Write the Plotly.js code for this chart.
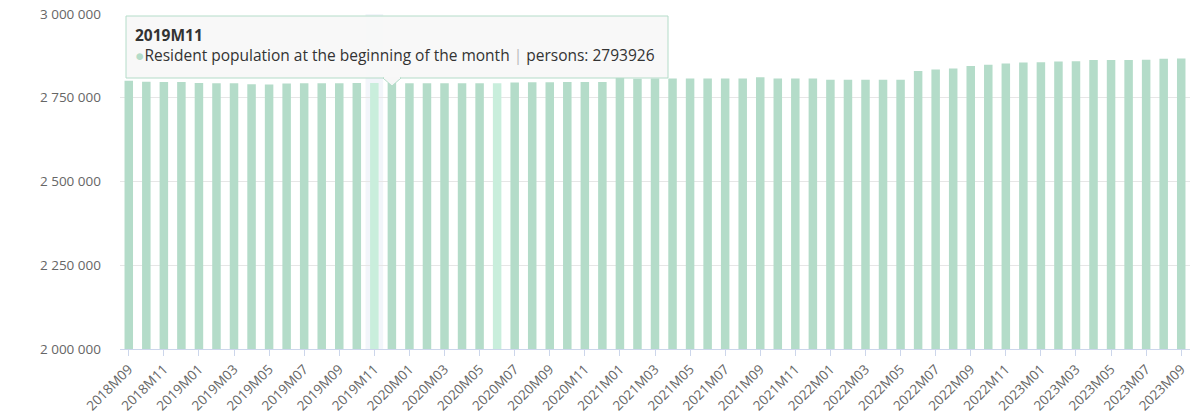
<!DOCTYPE html>
<html>
<head>
<meta charset="utf-8">
<script src="https://cdn.plot.ly/plotly-3.0.1.min.js"></script>
<style>
html,body{margin:0;padding:0;background:#fff;}
#chart{width:1199px;height:415px;}
</style>
</head>
<body>
<div id="chart"></div>
<script>
// ---- data ----
var months = [
 "2018M09","2018M10","2018M11","2018M12",
 "2019M01","2019M02","2019M03","2019M04","2019M05","2019M06","2019M07","2019M08","2019M09","2019M10","2019M11","2019M12",
 "2020M01","2020M02","2020M03","2020M04","2020M05","2020M06","2020M07","2020M08","2020M09","2020M10","2020M11","2020M12",
 "2021M01","2021M02","2021M03","2021M04","2021M05","2021M06","2021M07","2021M08","2021M09","2021M10","2021M11","2021M12",
 "2022M01","2022M02","2022M03","2022M04","2022M05","2022M06","2022M07","2022M08","2022M09","2022M10","2022M11","2022M12",
 "2023M01","2023M02","2023M03","2023M04","2023M05","2023M06","2023M07","2023M08","2023M09"
];
var population = [
 2801000,2797500,2797000,2797000,
 2794000,2793500,2793000,2790000,2789800,2792500,2793000,2793300,2793600,2793800,2793926,2793900,
 2793500,2793200,2793000,2793100,2793200,2793400,2795500,2796000,2796500,2796800,2797000,2797200,
 2811000,2807000,2807200,2807300,2807400,2807500,2807600,2807700,2811500,2807500,2807300,2807200,
 2804000,2803800,2803700,2803600,2803500,2830000,2834000,2837000,2845000,2848500,2852000,2855500,
 2856000,2858500,2859000,2862500,2862800,2863000,2863200,2866500,2867000
];
var seriesName = "Resident population at the beginning of the month";
var unitName = "persons";
var hoveredMonth = "2019M11";
var lightMonths = ["2019M11","2020M06"];
var yTickVals = [2000000,2250000,2500000,2750000,3000000];

// ---- derived ----
var baseColor = "#b4dcc9";
var lightColor = "#c9eedc";
var colors = months.map(function(m){ return lightMonths.indexOf(m) >= 0 ? lightColor : baseColor; });
var xTicks = months.filter(function(m,i){ return i % 2 === 0; });
var hi = months.indexOf(hoveredMonth);
var hoveredValue = population[hi];

var trace = {
  type: "bar",
  x: months,
  y: population,
  marker: {color: colors, line: {width: 0}},
  hoverinfo: "none"
};

function px(x){ return (x - 120) / 1070; }
function py(y){ return 1 - (y - 14) / 335; }

var layout = {
  width: 1199, height: 415,
  margin: {l: 120, r: 9, t: 14, b: 66},
  paper_bgcolor: "#fff", plot_bgcolor: "#fff",
  separators: ". ",
  bargap: 0.515,
  showlegend: false,
  font: {family: "Open Sans, Noto Sans, sans-serif", color: "#666"},
  xaxis: {
    type: "category",
    tickvals: xTicks, ticktext: xTicks,
    tickangle: -45,
    tickfont: {size: 13.5, color: "#666"},
    ticks: "outside", ticklen: 6, tickcolor: "#ccd6eb", tickwidth: 1,
    showline: true, linecolor: "#ccd6eb", linewidth: 1,
    showgrid: false, zeroline: false,
    range: [-0.5, months.length - 0.5],
    fixedrange: true
  },
  yaxis: {
    range: [2000000, 3000000],
    tickvals: yTickVals,
    tickformat: ",d",
    tickfont: {size: 13.5, color: "#666"},
    ticks: "", ticklabelstandoff: 18,
    showgrid: true, gridcolor: "#e6e6e6", gridwidth: 1,
    zeroline: false, showline: false,
    fixedrange: true
  },
  shapes: [
    {type: "rect", xref: "x", yref: "paper", x0: hi - 0.5, x1: hi + 0.5, y0: 0, y1: 1,
     fillcolor: "rgba(204,214,235,0.25)", line: {width: 0}, layer: "below"},
    {type: "rect", xref: "paper", yref: "paper",
     x0: px(126), x1: px(668), y0: py(78), y1: py(16),
     fillcolor: "rgba(247,247,247,0.92)", line: {color: baseColor, width: 1}, layer: "above"},
    {type: "path", xref: "paper", yref: "paper",
     path: "M " + px(383) + " " + py(78) + " L " + px(392) + " " + py(86) + " L " + px(401) + " " + py(78) + " Z",
     fillcolor: "rgba(247,247,247,0.95)", line: {color: baseColor, width: 1}, layer: "above"},
    {type: "line", xref: "paper", yref: "paper",
     x0: px(384), x1: px(400), y0: py(78), y1: py(78),
     line: {color: "rgba(247,247,247,1)", width: 2}, layer: "above"}
  ],
  annotations: [
    {xref: "paper", yref: "paper", x: px(133), y: py(35), xanchor: "left", yanchor: "middle",
     text: "<b>" + hoveredMonth + "</b>", showarrow: false,
     font: {size: 15.5, color: "#333", family: "Open Sans, sans-serif"}},
    {xref: "paper", yref: "paper", x: px(133), y: py(55), xanchor: "left", yanchor: "middle",
     text: "<span style='color:" + baseColor + "'>●</span>" + seriesName +
           " <span style='color:#bbb'>|</span> " + unitName + ": " + hoveredValue,
     showarrow: false,
     font: {size: 15.5, color: "#333", family: "Open Sans, sans-serif"}}
  ]
};

Plotly.newPlot("chart", [trace], layout, {displayModeBar: false, staticPlot: true});
</script>
</body>
</html>
